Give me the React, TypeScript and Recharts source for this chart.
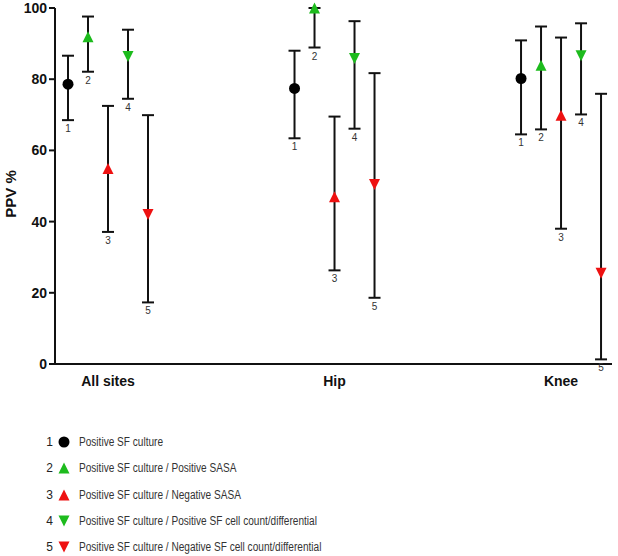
import { ScatterChart, Scatter, XAxis, YAxis, ErrorBar, Legend } from 'recharts';

const CATEGORIES = ['All sites', 'Hip', 'Knee'];

const SERIES_NAMES = [
  'Positive SF culture',
  'Positive SF culture / Positive SASA',
  'Positive SF culture / Negative SASA',
  'Positive SF culture / Positive SF cell count/differential',
  'Positive SF culture / Negative SF cell count/differential',
];

// one entry per category: All sites, Hip, Knee
const PPV_1 = [78.6, 77.4, 80.2];
const LOW_1 = [68.5, 63.4, 64.5];
const HIGH_1 = [86.6, 88.0, 90.9];

const PPV_2 = [91.9, 100, 83.9];
const LOW_2 = [82.1, 88.9, 65.9];
const HIGH_2 = [97.6, 100, 94.8];

const PPV_3 = [54.9, 47.0, 69.9];
const LOW_3 = [37.1, 26.3, 38.0];
const HIGH_3 = [72.5, 69.5, 91.7];

const PPV_4 = [86.4, 85.8, 86.6];
const LOW_4 = [74.5, 66.1, 70.1];
const HIGH_4 = [93.9, 96.3, 95.7];

const PPV_5 = [42.0, 50.4, 25.5];
const LOW_5 = [17.3, 18.6, 1.3];
const HIGH_5 = [69.9, 81.7, 75.9];

const Y_TICKS = [0, 20, 40, 60, 80, 100];

const GREEN = '#1dbb1d';
const RED = '#ee1111';

type Marker = 'circle' | 'up' | 'down';

const SERIES: { ppv: number[]; low: number[]; high: number[]; color: string; marker: Marker }[] = [
  { ppv: PPV_1, low: LOW_1, high: HIGH_1, color: '#000', marker: 'circle' },
  { ppv: PPV_2, low: LOW_2, high: HIGH_2, color: GREEN, marker: 'up' },
  { ppv: PPV_3, low: LOW_3, high: HIGH_3, color: RED, marker: 'up' },
  { ppv: PPV_4, low: LOW_4, high: HIGH_4, color: GREEN, marker: 'down' },
  { ppv: PPV_5, low: LOW_5, high: HIGH_5, color: RED, marker: 'down' },
];

// horizontal spread of the five estimates inside a category
const STEP = 0.0883;

const FONT = "'Liberation Sans', Arial, Helvetica, sans-serif";

function MarkerShape({ cx, cy, color, marker, size = 11 }: { cx: number; cy: number; color: string; marker: Marker; size?: number }) {
  const h = size / 2;
  if (marker === 'circle') return <circle cx={cx} cy={cy} r={h} fill={color} />;
  const pts =
    marker === 'up'
      ? `${cx - h},${cy + h} ${cx + h},${cy + h} ${cx},${cy - h}`
      : `${cx - h},${cy - h} ${cx + h},${cy - h} ${cx},${cy + h}`;
  return <polygon points={pts} fill={color} />;
}

function PpvLabel({ viewBox }: any) {
  const x = viewBox.x + 10;
  const y = viewBox.y + viewBox.height / 2 + 8;
  return (
    <text
      x={x}
      y={y}
      transform={`rotate(-90 ${x} ${y})`}
      textAnchor="middle"
      dominantBaseline="central"
      fontFamily={FONT}
      fontWeight="bold"
      fontSize={15}
      fill="#111"
    >
      PPV %
    </text>
  );
}

function LegendBox() {
  return (
    <div style={{ fontFamily: FONT, fontSize: 12, color: '#333' }}>
      {SERIES.map((s, i) => (
        <div key={i} style={{ display: 'flex', alignItems: 'center', height: 26.25 }}>
          <span style={{ width: 18, textAlign: 'right', fontSize: 12, color: '#222' }}>{i + 1}</span>
          <svg width={22} height={14} style={{ marginLeft: 0 }}>
            <MarkerShape cx={11} cy={7} color={s.color} marker={s.marker} size={11} />
          </svg>
          <span
            style={{
              marginLeft: 4,
              display: 'inline-block',
              whiteSpace: 'nowrap',
              transform: 'scaleX(0.84)',
              transformOrigin: 'left center',
            }}
          >
            {SERIES_NAMES[i]}
          </span>
        </div>
      ))}
    </div>
  );
}

export default function App() {
  const seriesData = SERIES.map((s, k) =>
    CATEGORIES.map((_, g) => ({
      x: g + (k - 2) * STEP,
      y: s.ppv[g],
      err: [s.ppv[g] - s.low[g], s.high[g] - s.ppv[g]],
    }))
  );
  const labelData = SERIES.flatMap((s, k) =>
    CATEGORIES.map((_, g) => ({ x: g + (k - 2) * STEP, y: s.low[g], n: k + 1 }))
  );

  return (
    <div style={{ width: 618, height: 556, background: '#fff' }}>
      <style>{'body{margin:0;background:#fff}'}</style>
      <ScatterChart width={618} height={556} margin={{ top: 8, right: 6, left: 0, bottom: 162 }}>
        <XAxis
          type="number"
          dataKey="x"
          domain={[-0.234, 2.225]}
          ticks={[0, 1, 2]}
          tickFormatter={(v) => CATEGORIES[v] ?? ''}
          tickLine={false}
          tickSize={8}
          tickMargin={4}
          height={30}
          axisLine={{ stroke: '#111', strokeWidth: 2 }}
          tick={{ fill: '#111', fontSize: 14, fontWeight: 'bold', fontFamily: FONT }}
        />
        <YAxis
          type="number"
          dataKey="y"
          domain={[0, 100]}
          ticks={Y_TICKS}
          width={55}
          tickSize={6}
          tickMargin={2}
          axisLine={{ stroke: '#111', strokeWidth: 2 }}
          tickLine={{ stroke: '#111', strokeWidth: 2 }}
          tick={{ fill: '#111', fontSize: 14, fontWeight: 'bold', fontFamily: FONT }}
          label={<PpvLabel />}
        />
        {SERIES.map((s, k) => (
          <Scatter
            key={k}
            name={SERIES_NAMES[k]}
            data={seriesData[k]}
            isAnimationActive={false}
            shape={(p: any) => <MarkerShape cx={p.cx} cy={p.cy} color={s.color} marker={s.marker} />}
          >
            <ErrorBar dataKey="err" direction="y" width={6} stroke="#111" strokeWidth={2} isAnimationActive={false} />
          </Scatter>
        ))}
        <Scatter
          name="labels"
          data={labelData}
          legendType="none"
          isAnimationActive={false}
          shape={(p: any) => (
            <text x={p.cx} y={p.cy + 12} textAnchor="middle" fontSize={10} fontFamily={FONT} fill="#333">
              {p.payload.n}
            </text>
          )}
        />
        <Legend
          layout="vertical"
          align="center"
          verticalAlign="middle"
          wrapperStyle={{ top: 429, left: 35, width: 420 }}
          content={() => <LegendBox />}
        />
      </ScatterChart>
    </div>
  );
}
